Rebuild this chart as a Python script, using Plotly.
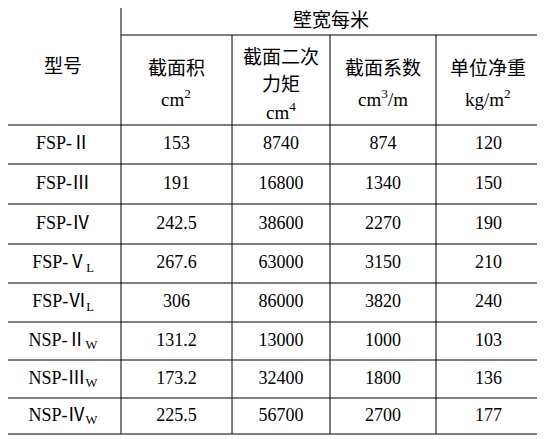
import plotly.graph_objects as go

models = ["FSP-Ⅱ", "FSP-Ⅲ", "FSP-Ⅳ", "FSP-Ⅴ<sub>L</sub>", "FSP-Ⅵ<sub>L</sub>",
          "NSP-Ⅱ<sub>W</sub>", "NSP-Ⅲ<sub>W</sub>", "NSP-Ⅳ<sub>W</sub>"]
area = ["153", "191", "242.5", "267.6", "306", "131.2", "173.2", "225.5"]
inertia = ["8740", "16800", "38600", "63000", "86000", "13000", "32400", "56700"]
modulus = ["874", "1340", "2270", "3150", "3820", "1000", "1800", "2700"]
weight = ["120", "150", "190", "210", "240", "103", "136", "177"]

col_edges = [5, 121, 232, 330, 436, 541]
row_edges = [125, 164, 204, 244, 283, 322, 360, 398, 434]
top, mid = 5, 35

FONT = "Liberation Serif, Noto Sans CJK SC"
fig = go.Figure()

columns = [models, area, inertia, modulus, weight]
xs, ys, txt = [], [], []
for c, vals in enumerate(columns):
    cx = (col_edges[c] + col_edges[c + 1]) / 2
    for r, v in enumerate(vals):
        xs.append(cx)
        ys.append((row_edges[r] + row_edges[r + 1]) / 2)
        txt.append(v)
fig.add_trace(go.Scatter(x=xs, y=ys, text=txt, mode="text",
                         textfont=dict(family=FONT, size=18, color="black"),
                         hoverinfo="skip", showlegend=False, cliponaxis=False))

line = dict(color="black", width=1)
for x in col_edges:
    y0 = mid if x not in (5, 121, 541) else top
    fig.add_shape(type="line", x0=x, x1=x, y0=y0, y1=434, line=line)
fig.add_shape(type="line", x0=5, x1=541, y0=top, y1=top, line=line)
fig.add_shape(type="line", x0=121, x1=541, y0=mid, y1=mid, line=line)
for y in row_edges:
    fig.add_shape(type="line", x0=5, x1=541, y0=y, y1=y, line=line)

headers = [
    (63, 66, "型号"),
    (331, 20, "壁宽每米"),
    (176, 68, "截面积"), (176, 98, "cm<sup>2</sup>"),
    (281, 57, "截面二次"), (281, 84, "力矩"), (281, 111, "cm<sup>4</sup>"),
    (383, 68, "截面系数"), (383, 98, "cm<sup>3</sup>/m"),
    (488, 68, "单位净重"), (488, 98, "kg/m<sup>2</sup>"),
]
for x, y, t in headers:
    fig.add_annotation(x=x, y=y, text=t, showarrow=False,
                       font=dict(family=FONT, size=19, color="black"))

# page body has an 8px margin, so shift the ranges to keep pixel coordinates
fig.update_xaxes(range=[8, 553], visible=False)
fig.update_yaxes(range=[447, 8], visible=False)
fig.update_layout(width=545, height=439, margin=dict(l=0, r=0, t=0, b=0),
                  plot_bgcolor="white", paper_bgcolor="white")
fig.write_html("out.html")
